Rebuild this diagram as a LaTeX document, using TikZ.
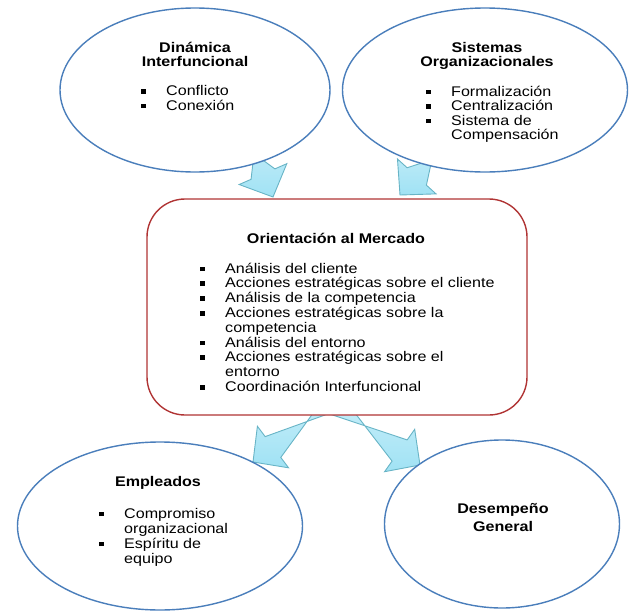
\documentclass[tikz,border=0pt]{standalone}
\usepackage{fontspec}
\setmainfont[FakeStretch=1.15]{Liberation Sans}
\usetikzlibrary{shapes.geometric, calc, backgrounds}

\definecolor{bubbleblue}{RGB}{74,126,187}
\definecolor{boxred}{RGB}{176,52,52}
\definecolor{arrowedge}{RGB}{104,180,198}
\definecolor{arrowlight}{RGB}{205,240,250}
\definecolor{arrowdark}{RGB}{160,226,244}

\newcommand{\bul}{\makebox[25pt][l]{\rule[2pt]{4.5pt}{4.5pt}}}
\newcommand{\cnt}{\hspace*{25pt}}

\begin{document}
\begin{tikzpicture}[
  x=1pt, y=-1pt,
  bubble/.style={ellipse, draw=bubbleblue, line width=1.4pt, fill=white, inner sep=0pt},
  mobox/.style={rectangle, rounded corners=38pt, draw=boxred, line width=1.4pt, fill=white, inner sep=0pt},
  heading/.style={font=\fontsize{14}{14}\selectfont\bfseries, align=center, anchor=base, inner sep=0pt},
  items/.style={font=\fontsize{14}{14.5}\selectfont, align=left, anchor=base west, inner sep=0pt},
  blockarrow/.style={draw=arrowedge, line width=0.9pt, top color=arrowlight, bottom color=arrowdark,
    to path={
      ($(\tikztostart)!13pt!90:(\tikztotarget)$)
      -- ($(\tikztotarget)!25pt!(\tikztostart)!13pt!-90:(\tikztotarget)$)
      -- ($(\tikztotarget)!25pt!(\tikztostart)!26pt!-90:(\tikztotarget)$)
      -- (\tikztotarget)
      -- ($(\tikztotarget)!25pt!(\tikztostart)!26pt!90:(\tikztotarget)$)
      -- ($(\tikztotarget)!25pt!(\tikztostart)!13pt!90:(\tikztotarget)$)
      -- ($(\tikztostart)!13pt!-90:(\tikztotarget)$)
      -- cycle}}
]
\useasboundingbox (0,0) rectangle (633,611);

% shapes
\node[bubble, minimum width=270pt, minimum height=164pt] (dyn) at (195,90) {};
\node[bubble, minimum width=285pt, minimum height=164pt] (sis) at (485,90) {};
\node[mobox, minimum width=380pt, minimum height=216pt] (mo) at (337,307) {};
\node[bubble, minimum width=285pt, minimum height=168pt] (emp) at (160,526) {};
\node[bubble, minimum width=235pt, minimum height=168pt] (des) at (502,524) {};

% texts (anchored at the baseline of the last line)
\node[heading] (dyn-t) at (195,66) {Dinámica\\Interfuncional};
\node[items] (dyn-l) at (141,110) {\bul Conflicto\\\bul Conexión};

\node[heading] (sis-t) at (487,66) {Sistemas\\Organizacionales};
\node[items] (sis-l) at (426,139.5) {\bul Formalización\\\bul Centralización\\\bul Sistema de\\\cnt Compensación};

\node[heading] (mo-t) at (336,243) {Orientación al Mercado};
\node[items, font=\fontsize{14}{14.8}\selectfont] (mo-l) at (200,391.5) {\bul Análisis del cliente\\
  \bul Acciones estratégicas sobre el cliente\\
  \bul Análisis de la competencia\\
  \bul Acciones estratégicas sobre la\\
  \cnt competencia\\
  \bul Análisis del entorno\\
  \bul Acciones estratégicas sobre el\\
  \cnt entorno\\
  \bul Coordinación Interfuncional};

\node[heading] (emp-t) at (158,486) {Empleados};
\node[items, font=\fontsize{14}{15}\selectfont] (emp-l) at (99,563) {\bul Compromiso\\\cnt organizacional\\\bul Espíritu de\\\cnt equipo};

\node[heading, font=\fontsize{14}{18}\selectfont\bfseries] (des-t) at (503,531) {Desempeño\\General};

% arrows
\coordinate (dyn-out) at (245,133);
\coordinate (mo-tl) at (273,197);
\coordinate (sis-out) at (447,143);
\coordinate (mo-tr) at (400,195);
\coordinate (mo-outl) at (341,396);
\coordinate (emp-in) at (253,462);
\coordinate (mo-outr) at (330,401);
\coordinate (des-in) at (420,465);

\begin{scope}[on background layer]
\draw[blockarrow] (dyn-out) to (mo-tl);
\draw[blockarrow] (sis-out) to (mo-tr);
\draw[blockarrow] (mo-outl) to (emp-in);
\draw[blockarrow] (mo-outr) to (des-in);
\end{scope}
\end{tikzpicture}
\end{document}
